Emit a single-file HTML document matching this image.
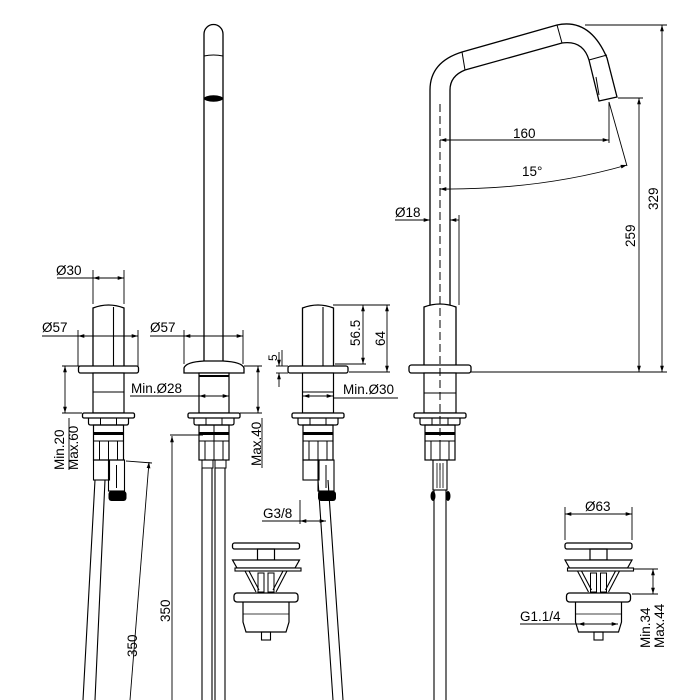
<!DOCTYPE html>
<html><head><style>
html,body{margin:0;padding:0;background:#fff;}
svg{display:block;}
text{font-family:"Liberation Sans",Arial,sans-serif;font-size:13.5px;fill:#000;}
</style></head><body>
<svg width="700" height="700" viewBox="0 0 700 700" xmlns="http://www.w3.org/2000/svg">
<defs>
<marker id="a" viewBox="0 0 10 10" refX="10" refY="5" markerWidth="7" markerHeight="7" orient="auto-start-reverse"><path d="M0,2 L10,5 L0,8 z" fill="#000"/></marker>
<g id="lower">
  <rect x="-26" y="413" width="52" height="5" rx="1.5" fill="#fff" stroke="#000" stroke-width="1.3"/>
  <path d="M-20,418 L-20,423 Q-20,425 -18,425 L18,425 Q20,425 20,423 L20,418" fill="none" stroke="#000" stroke-width="1.2"/>
  <line x1="-8" y1="418" x2="-8" y2="425" stroke="#000"/><line x1="8" y1="418" x2="8" y2="425" stroke="#000"/>
  <rect x="-15" y="425" width="30" height="35" fill="none" stroke="#000" stroke-width="1.2"/>
  <rect x="-15" y="432" width="30" height="3" fill="#000"/>
  <line x1="-15" y1="441" x2="15" y2="441" stroke="#000"/>
  <line x1="-9" y1="441" x2="-9" y2="460" stroke="#000"/><line x1="9" y1="441" x2="9" y2="460" stroke="#000"/>
  <line x1="0" y1="441" x2="0" y2="460" stroke="#000"/>
</g>
<g id="unit">
  <path d="M-15.5,366 L-15.5,308 Q0,302 15.5,308 L15.5,366" fill="#fff" stroke="#000" stroke-width="1.3"/>
  <line x1="5" y1="307" x2="5" y2="366" stroke="#000" stroke-width="1.1"/>
  <rect x="-30" y="366" width="60" height="7" rx="2" fill="#fff" stroke="#000" stroke-width="1.3"/>
  <rect x="-15.5" y="373" width="31" height="40" fill="#fff" stroke="#000" stroke-width="1.2"/>
  <line x1="-15.5" y1="392" x2="15.5" y2="392" stroke="#000"/>
  <use href="#lower"/>
  <rect x="-15" y="460" width="16" height="20" fill="none" stroke="#000" stroke-width="1.1"/>
  <rect x="0" y="460" width="16" height="31" fill="none" stroke="#000" stroke-width="1.1"/>
  <line x1="8" y1="465" x2="8" y2="488" stroke="#000"/>
  <rect x="0" y="491" width="18" height="10" rx="3" fill="#000"/>
</g>
<g id="waste">
  <rect x="-33.5" y="543" width="67" height="6" rx="2" fill="#fff" stroke="#000" stroke-width="1.3"/>
  <rect x="-8.5" y="549" width="17" height="11" fill="none" stroke="#000" stroke-width="1.2"/>
  <path d="M-33.5,560 L33.5,560 L29,568 L-29,568 Z" fill="#fff" stroke="#000" stroke-width="1.2"/>
  <rect x="-31" y="568" width="66" height="3" fill="#fff" stroke="#000" stroke-width="1.1"/>
  <path d="M-21,571 L-10,592 M21,571 L10,592 M-17,571 L-7,590 M17,571 L7,590" stroke="#000" stroke-width="1.1" fill="none"/>
  <rect x="-8" y="573" width="6" height="19" fill="none" stroke="#000"/>
  <rect x="2" y="573" width="6" height="19" fill="none" stroke="#000"/>
  <rect x="-32" y="593" width="64" height="9" rx="3" fill="#fff" stroke="#000" stroke-width="1.3"/>
  <path d="M-23,602 L-23,622 L-20,632 L20,632 L23,622 L23,602" fill="none" stroke="#000" stroke-width="1.2"/>
  <line x1="-23" y1="614" x2="23" y2="614" stroke="#000" stroke-width="0.8"/>
  <rect x="-4.5" y="632" width="9" height="8" fill="none" stroke="#000" stroke-width="1.1"/>
</g>
</defs>

<g stroke-width="1">
<use href="#unit" x="108.5"/>
<use href="#unit" x="318"/>

<!-- center spout -->
<path d="M204,362 L204,34 A9.5,9.5 0 0 1 223,34 L223,362" fill="none" stroke="#000" stroke-width="1.3"/>
<path d="M204,56 Q213.5,54 223,56" fill="none" stroke="#000"/>
<ellipse cx="213.5" cy="98.5" rx="9.5" ry="3.2" fill="#000"/>
<path d="M184,373 L184,368 Q186,362 204,361 L223,361 Q242,362 244,368 L244,373 Z" fill="#fff" stroke="#000" stroke-width="1.3"/>
<rect x="199" y="373" width="30" height="40" fill="#fff" stroke="#000" stroke-width="1.2"/>
<line x1="199" y1="376" x2="229" y2="376" stroke="#000" stroke-width="2"/>
<use href="#lower" x="214"/>
<line x1="214" y1="425" x2="214" y2="460" stroke="#000"/>
<rect x="202" y="460" width="11" height="8" fill="none" stroke="#000"/>
<rect x="215" y="460" width="11" height="8" fill="none" stroke="#000"/>
<path d="M202,468 L202,700 M212,468 L212,700 M215,468 L215,700 M225,468 L225,700" stroke="#000" stroke-width="1.1"/>

<!-- right spout -->
<path d="M430,305 L430,90 Q430,62 462,52 L557,25 Q590,18 607,58 L617,97 L599,101 L589,60 Q583,40 562,43 L465,70 Q450,76 450,90 L450,305" fill="#fff" stroke="#000" stroke-width="1.3"/>
<path d="M462,52 L465,70 M557,25 L562,43 M589,60 L607,55 M596,77 L599,95" stroke="#000" stroke-width="1"/>
<path d="M424,365 L424,307 Q440,301 456,307 L456,365" fill="#fff" stroke="#000" stroke-width="1.3"/>
<rect x="409" y="365" width="62" height="8" rx="2.5" fill="#fff" stroke="#000" stroke-width="1.3"/>
<rect x="424" y="373" width="32" height="40" fill="#fff" stroke="#000" stroke-width="1.2"/>
<line x1="424" y1="393" x2="456" y2="393" stroke="#000"/>
<use href="#lower" x="440"/>
<rect x="433" y="460" width="14" height="30" fill="none" stroke="#000" stroke-width="1.1"/>
<path d="M437,463 L437,488 M440,463 L440,488 M443,463 L443,488" stroke="#000" stroke-width="0.8"/>
<ellipse cx="433" cy="496" rx="2.5" ry="5" fill="#000"/><ellipse cx="448" cy="496" rx="2.5" ry="5" fill="#000"/>
<path d="M434,490 L434,700 M446,490 L446,700" stroke="#000" stroke-width="1.1"/>
<line x1="440" y1="104" x2="440" y2="470" stroke="#000" stroke-dasharray="8,4" stroke-width="1"/>

<path d="M95,480 L83,700 M105,480 L95,700" stroke="#000" stroke-width="1.1"/>
<path d="M318,480 L333,700 M328,480 L343,700" stroke="#000" stroke-width="1.1"/>

<use href="#waste" x="266"/>
<use href="#waste" x="598.5"/>
</g>

<g stroke="#000" stroke-width="0.9" fill="none">
<line x1="93" y1="270" x2="93" y2="304"/><line x1="124" y1="270" x2="124" y2="304"/>
<line x1="57" y1="278" x2="93" y2="278"/>
<line x1="93" y1="278" x2="124" y2="278" marker-start="url(#a)" marker-end="url(#a)"/>
<line x1="78" y1="330" x2="78" y2="366"/><line x1="138" y1="330" x2="138" y2="366"/>
<line x1="42" y1="336" x2="78" y2="336"/>
<line x1="78" y1="336" x2="138" y2="336" marker-start="url(#a)" marker-end="url(#a)"/>
<line x1="62" y1="366" x2="92" y2="366"/><line x1="62" y1="413" x2="82" y2="413"/>
<line x1="65" y1="366" x2="65" y2="413" marker-start="url(#a)" marker-end="url(#a)"/>
<line x1="69" y1="418" x2="69" y2="470"/>
<line x1="184" y1="330" x2="184" y2="364"/><line x1="243" y1="330" x2="243" y2="364"/>
<line x1="150" y1="336" x2="184" y2="336"/>
<line x1="184" y1="336" x2="243" y2="336" marker-start="url(#a)" marker-end="url(#a)"/>
<line x1="130" y1="396" x2="199" y2="396"/>
<line x1="199" y1="396" x2="229" y2="396" marker-start="url(#a)" marker-end="url(#a)"/>
<line x1="244" y1="366" x2="262" y2="366"/><line x1="240" y1="413" x2="262" y2="413"/>
<line x1="258" y1="366" x2="258" y2="413" marker-start="url(#a)" marker-end="url(#a)"/>
<line x1="262" y1="418" x2="262" y2="468"/>
<line x1="276" y1="366" x2="288" y2="366"/><line x1="276" y1="373" x2="288" y2="373"/>
<line x1="279" y1="352" x2="279" y2="366" marker-end="url(#a)"/>
<line x1="279" y1="387" x2="279" y2="373" marker-end="url(#a)"/>
<line x1="282" y1="350" x2="282" y2="366"/>
<line x1="333" y1="305" x2="390" y2="305"/><line x1="335" y1="364" x2="366" y2="364"/><line x1="349" y1="372" x2="390" y2="372"/>
<line x1="363" y1="305" x2="363" y2="364" marker-start="url(#a)" marker-end="url(#a)"/>
<line x1="387" y1="305" x2="387" y2="372" marker-start="url(#a)" marker-end="url(#a)"/>
<line x1="303" y1="396" x2="333" y2="396" marker-start="url(#a)" marker-end="url(#a)"/>
<line x1="333" y1="398" x2="398" y2="398"/>
<line x1="126" y1="461" x2="152" y2="463"/>
<line x1="149" y1="462" x2="130" y2="700" marker-start="url(#a)"/>
<line x1="170" y1="435" x2="203" y2="435"/>
<line x1="172" y1="436" x2="172" y2="700" marker-start="url(#a)"/>
<line x1="262" y1="521" x2="300" y2="521"/>
<line x1="300" y1="521" x2="326" y2="521" marker-start="url(#a)" marker-end="url(#a)"/>
<line x1="300" y1="500" x2="300" y2="524"/>
<line x1="395" y1="220" x2="428" y2="220"/>
<line x1="425" y1="220" x2="430" y2="220" marker-end="url(#a)"/>
<line x1="459" y1="220" x2="450" y2="220" marker-end="url(#a)"/>
<line x1="459" y1="215" x2="459" y2="305"/>
<line x1="440" y1="140" x2="609" y2="140" marker-start="url(#a)" marker-end="url(#a)"/>
<line x1="609" y1="102" x2="609" y2="143"/>
<line x1="609" y1="102" x2="627" y2="166"/>
<path d="M440,189 Q540,190 627,165" marker-start="url(#a)" marker-end="url(#a)"/>
<line x1="585" y1="25" x2="667" y2="25"/><line x1="471" y1="372" x2="667" y2="372"/>
<line x1="662" y1="25" x2="662" y2="372" marker-start="url(#a)" marker-end="url(#a)"/>
<line x1="618" y1="98" x2="643" y2="98"/>
<line x1="639" y1="98" x2="639" y2="372" marker-start="url(#a)" marker-end="url(#a)"/>
<line x1="565" y1="507" x2="565" y2="540"/><line x1="632" y1="507" x2="632" y2="540"/>
<line x1="565" y1="514" x2="632" y2="514" marker-start="url(#a)" marker-end="url(#a)"/>
<line x1="634" y1="569" x2="658" y2="569"/><line x1="632" y1="594" x2="658" y2="594"/>
<line x1="653" y1="569" x2="653" y2="594" marker-start="url(#a)" marker-end="url(#a)"/>
<line x1="520" y1="624" x2="578" y2="624"/>
<line x1="578" y1="624" x2="618" y2="624" marker-start="url(#a)" marker-end="url(#a)"/>
</g>

<text x="56" y="275">Ø30</text>
<text x="42" y="332">Ø57</text>
<text x="150" y="332">Ø57</text>
<text x="131" y="393">Min.Ø28</text>
<text x="343" y="394">Min.Ø30</text>
<text transform="translate(64,470) rotate(-90)">Min.20</text>
<text transform="translate(78,470) rotate(-90)">Max.60</text>
<text transform="translate(261,466) rotate(-90)">Max.40</text>
<text transform="translate(277,361) rotate(-90)" style="font-size:12px">5</text>
<text transform="translate(360,346) rotate(-90)">56.5</text>
<text transform="translate(385,346) rotate(-90)">64</text>
<text transform="translate(137,657) rotate(-90)">350</text>
<text transform="translate(170,622) rotate(-90)">350</text>
<text x="263" y="518">G3/8</text>
<text x="395" y="217">Ø18</text>
<text x="513" y="138">160</text>
<text x="522" y="176">15°</text>
<text transform="translate(658,210) rotate(-90)">329</text>
<text transform="translate(635,247) rotate(-90)">259</text>
<text x="585" y="511">Ø63</text>
<text x="520" y="621">G1.1/4</text>
<text transform="translate(650,648) rotate(-90)">Min.34</text>
<text transform="translate(664,648) rotate(-90)">Max.44</text>
</svg>
</body></html>
